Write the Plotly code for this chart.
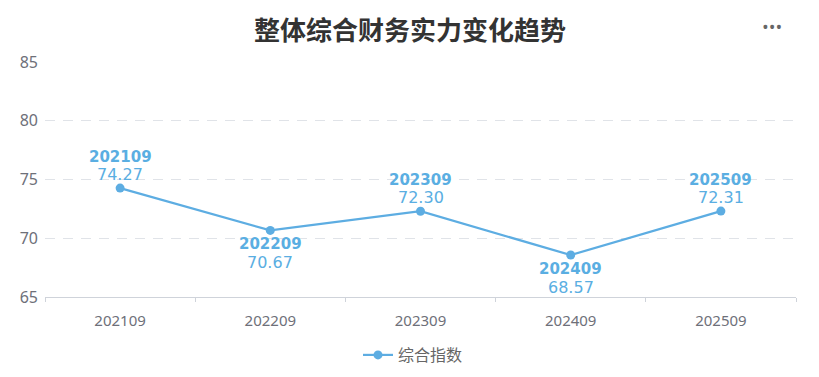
import plotly.graph_objects as go

categories = ["202109", "202209", "202309", "202409", "202509"]
values = [74.27, 70.67, 72.30, 68.57, 72.31]
label_above = [True, False, True, False, True]
y_ticks = [65, 70, 75, 80, 85]
series_name = "综合指数"
title_text = "整体综合财务实力变化趋势"

line_color = "#5dade2"
label_color = "#5aaee2"

xs = list(range(len(categories)))

W, H = 819, 377
ML, MR, MT, MB = 32, 31, 54, 88
PW, PH = W - ML - MR, H - MT - MB

fig = go.Figure()
fig.add_trace(go.Scatter(
    x=xs, y=values, mode="lines+markers", name=series_name,
    line=dict(color=line_color, width=2.2),
    marker=dict(color=line_color, size=9),
    cliponaxis=False,
))
fig.add_trace(go.Scatter(x=[-0.5, 4.5], y=[None, None], xaxis="x2", showlegend=False, hoverinfo="skip"))

for x, c, v, above in zip(xs, categories, values, label_above):
    year_shift, val_shift = (31, 14) if above else (-14, -32)
    fig.add_annotation(
        x=x, y=v, xref="x", yref="y", showarrow=False, text=f"<b>{c}</b>",
        yanchor="middle", xanchor="center", yshift=year_shift,
        font=dict(family="DejaVu Sans", size=15, color=label_color),
    )
    fig.add_annotation(
        x=x, y=v, xref="x", yref="y", showarrow=False, text=f"{v:.2f}",
        yanchor="middle", xanchor="center", yshift=val_shift,
        font=dict(family="DejaVu Sans", size=16, color=label_color),
    )

fig.update_layout(
    width=W, height=H,
    margin=dict(l=ML, r=MR, t=MT, b=MB),
    paper_bgcolor="white", plot_bgcolor="white",
    title=dict(text=title_text, x=402 / W, xanchor="center", y=1 - 23 / H, yanchor="middle",
               font=dict(family="Noto Sans CJK SC", size=26, color="#333333", weight="bold")),
    xaxis=dict(range=[-0.5, 4.5], tickvals=xs, ticktext=categories, showgrid=False,
               zeroline=False, showline=True, linecolor="#cfd3da", linewidth=1,
               ticks="", ticklabelstandoff=10,
               tickfont=dict(family="Noto Sans", size=15, color="#6e7079")),
    xaxis2=dict(range=[-0.5, 4.5], overlaying="x", tickvals=[-0.5, 0.5, 1.5, 2.5, 3.5, 4.5],
                showticklabels=False, ticks="outside", ticklen=4, tickcolor="#cfd3da",
                showgrid=False, zeroline=False, showline=False, side="bottom", anchor="y"),
    yaxis=dict(range=[65, 85], tickvals=y_ticks, showgrid=True, gridcolor="#e0e3e8",
               griddash="10px,8px", gridwidth=1, zeroline=False, showline=False,
               ticks="", ticklabelstandoff=6,
               tickfont=dict(family="Noto Sans", size=16, color="#6e7079")),
    legend=dict(orientation="h", x=0.49, xanchor="center", y=(MT + PH - 347) / PH, yanchor="middle",
                font=dict(family="Noto Sans CJK SC", size=16, color="#666666")),
    showlegend=True,
)
fig.add_annotation(text="•••", xref="paper", yref="paper", xanchor="center", yanchor="middle",
                   x=(764 - ML) / PW, y=(MT + PH - 19) / PH, showarrow=False,
                   font=dict(size=18, color="#666666"))
fig.write_html("out.html")
